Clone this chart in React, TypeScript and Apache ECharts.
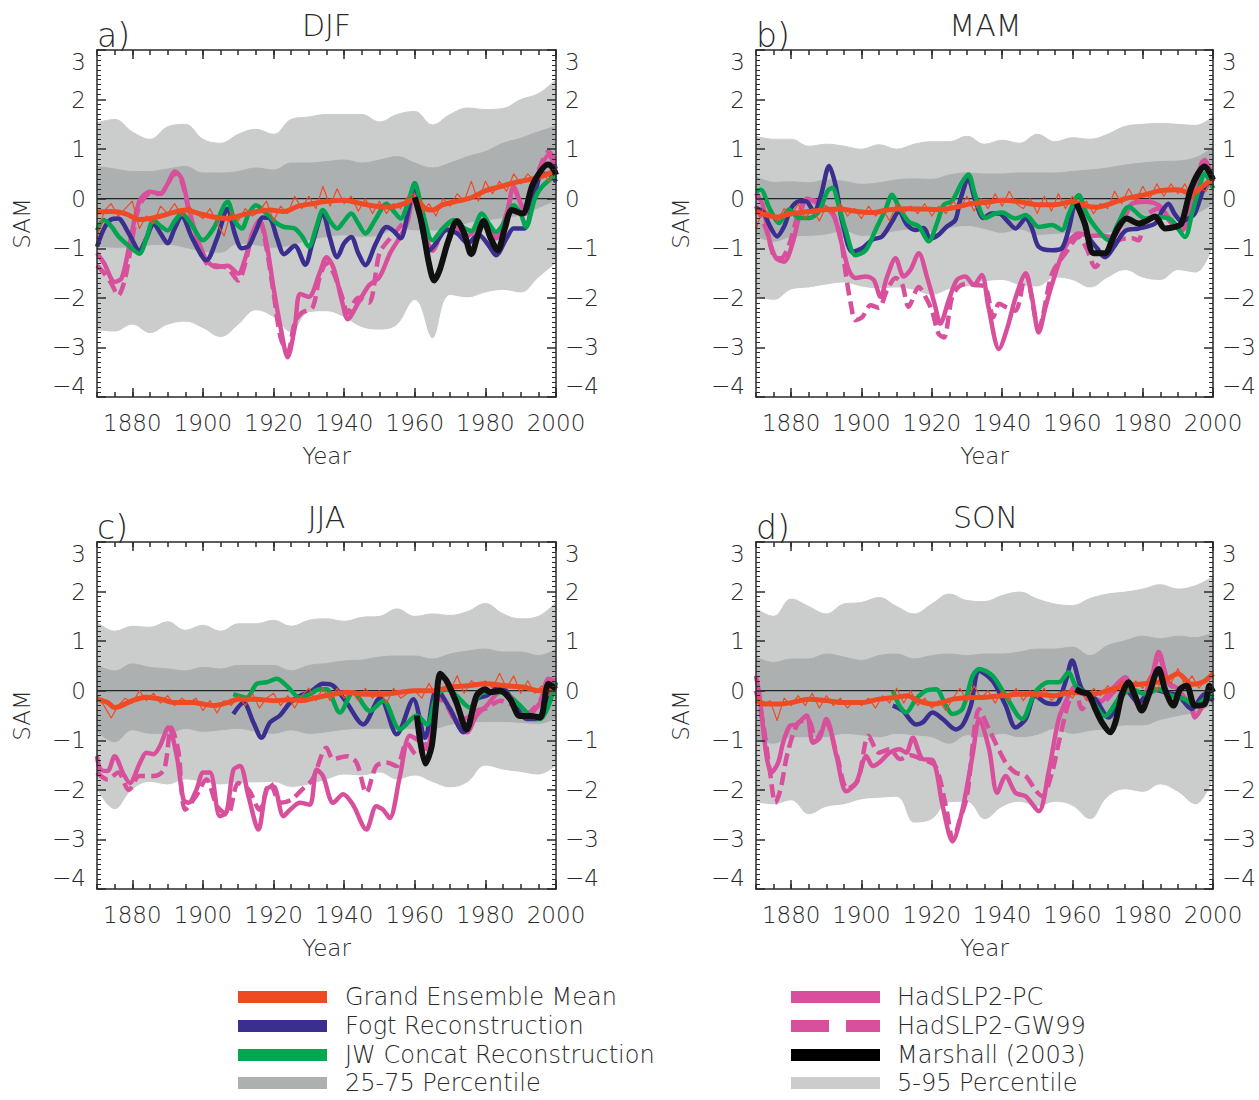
import React, { useEffect, useRef } from "react";
import * as echarts from "echarts";

// ---------------- shared ----------------
const BAND_YEARS = [1870, 1875, 1880, 1885, 1890, 1895, 1900, 1905, 1910, 1915, 1920, 1925, 1930, 1935, 1940, 1945, 1950, 1955, 1960, 1965, 1970, 1975, 1980, 1985, 1990, 1995, 2000];
const THIN_YEARS = Array.from({ length: 66 }, (_, i) => 1870 + 2 * i);
const X_LABEL_YEARS = [1880, 1900, 1920, 1940, 1960, 1980, 2000];
const ZERO_LINE = [[1870, 0], [2000, 0]];

// ---------------- DJF ----------------
const DJF_HI5 = [1.53, 1.6, 1.35, 1.2, 1.45, 1.5, 1.2, 1.12, 1.3, 1.4, 1.3, 1.6, 1.65, 1.7, 1.7, 1.7, 1.55, 1.7, 1.76, 1.49, 1.7, 1.83, 1.8, 1.82, 2.0, 2.12, 2.4];
const DJF_HI25 = [0.65, 0.6, 0.55, 0.55, 0.6, 0.65, 0.52, 0.52, 0.55, 0.62, 0.58, 0.72, 0.72, 0.75, 0.78, 0.72, 0.78, 0.85, 0.72, 0.62, 0.72, 0.85, 0.95, 1.12, 1.22, 1.35, 1.46];
const DJF_LO25 = [-0.97, -1.0, -1.0, -0.95, -0.94, -1.0, -1.08, -1.1, -0.92, -0.95, -1.0, -0.95, -0.85, -0.78, -0.75, -0.78, -0.75, -0.6, -0.65, -0.65, -0.65, -0.5, -0.45, -0.4, -0.35, -0.2, -0.05];
const DJF_LO5 = [-2.66, -2.69, -2.55, -2.72, -2.55, -2.49, -2.62, -2.8, -2.55, -2.26, -2.4, -2.7, -2.3, -2.28, -2.4, -2.6, -2.65, -2.55, -2.05, -2.82, -1.95, -2.0, -1.9, -1.85, -1.9, -1.6, -1.3];
const DJF_GEM_THIN = [
  -0.8, -0.25, -0.1, -0.35, -0.2,
  -0.05, -0.6, -0.35, -0.5, -0.15,
  -0.3, -0.1, -0.35, -0.15, -0.3,
  -0.4, -0.2, -0.5, -0.75, -0.25,
  -0.45, -0.2, -0.35, -0.25, -0.05,
  -0.45, -0.15, -0.3, 0.05, -0.2,
  0.05, -0.2, 0.25, -0.15, 0.2,
  -0.1, 0.05, -0.25, 0.0, -0.3,
  -0.05, -0.3, -0.1, -0.2, 0.05,
  0.1, -0.3, -0.1, -0.35, 0.0,
  -0.15, 0.1, -0.05, 0.35, -0.05,
  0.35, 0.1, 0.35, 0.15, 0.5,
  0.3, 0.5, 0.35, 0.55, 0.35,
  0.6,
];
const DJF_GEM = [[1870, -0.27], [1874, -0.26], [1878, -0.3], [1882, -0.42], [1885, -0.4], [1888, -0.35], [1892, -0.27], [1895, -0.23], [1899, -0.3], [1903, -0.37], [1907, -0.4], [1911, -0.33], [1915, -0.26], [1919, -0.23], [1923, -0.26], [1927, -0.15], [1931, -0.1], [1935, -0.05], [1940, -0.03], [1945, -0.1], [1949, -0.15], [1953, -0.17], [1957, -0.1], [1960, 0.0], [1963, -0.2], [1965, -0.23], [1968, -0.12], [1972, -0.05], [1976, 0.02], [1980, 0.16], [1984, 0.24], [1988, 0.32], [1992, 0.38], [1996, 0.45], [2000, 0.58]];
const DJF_FOGT = [[1870, -0.97], [1872, -0.6], [1874, -0.42], [1876, -0.4], [1879, -0.7], [1882, -1.04], [1884, -0.8], [1886, -0.5], [1888, -0.7], [1890, -0.9], [1892, -0.6], [1894, -0.36], [1897, -0.8], [1901, -1.24], [1904, -0.8], [1907, -0.2], [1909, -0.7], [1911, -1.0], [1913, -0.95], [1915, -0.65], [1917, -0.38], [1919, -0.4], [1921, -0.8], [1923, -1.12], [1926, -0.95], [1929, -1.33], [1931, -0.9], [1934, -0.3], [1936, -0.8], [1938, -1.18], [1940, -0.9], [1942, -0.77], [1944, -1.1], [1946, -1.34], [1949, -0.9], [1952, -0.57], [1954, -0.65], [1956, -0.8], [1958, -0.3], [1960, 0.31], [1962, -0.6], [1964, -1.05], [1966, -0.9], [1969, -0.63], [1972, -0.7], [1975, -0.9], [1978, -0.72], [1981, -0.95], [1983, -1.14], [1986, -0.8], [1988, -0.6], [1991, -0.6], [1994, 0.1], [1996, 0.5], [1998, 0.5], [2000, 0.34]];
const DJF_JW = [[1870, -0.64], [1872, -0.43], [1874, -0.55], [1876, -0.75], [1879, -0.95], [1882, -1.11], [1884, -0.8], [1886, -0.43], [1888, -0.55], [1890, -0.64], [1892, -0.45], [1894, -0.3], [1897, -0.55], [1900, -0.84], [1903, -0.6], [1907, -0.06], [1909, -0.45], [1911, -0.6], [1913, -0.3], [1915, -0.13], [1918, -0.3], [1921, -0.5], [1923, -0.57], [1926, -0.6], [1928, -0.75], [1930, -0.97], [1932, -0.6], [1934, -0.23], [1936, -0.45], [1938, -0.6], [1940, -0.45], [1942, -0.3], [1944, -0.5], [1946, -0.7], [1949, -0.4], [1952, -0.1], [1954, -0.25], [1956, -0.4], [1958, -0.1], [1960, 0.31], [1962, -0.2], [1965, -0.84], [1968, -0.6], [1971, -0.43], [1973, -0.55], [1976, -0.65], [1979, -0.3], [1981, -0.5], [1983, -0.67], [1986, -0.4], [1988, -0.13], [1990, -0.3], [1991.5, -0.57], [1994, 0.0], [1996, 0.24], [2000, 0.48]];
const DJF_PC = [[1870, -1.1], [1872, -1.3], [1875, -1.68], [1877, -1.6], [1879, -1.0], [1882, -0.05], [1885, 0.14], [1888, 0.1], [1890, 0.3], [1892, 0.55], [1894, 0.4], [1896, -0.2], [1898, -0.7], [1901, -1.24], [1904, -1.38], [1907, -1.35], [1910, -1.51], [1912, -1.2], [1914, -0.7], [1916, -0.43], [1918, -0.9], [1920, -1.8], [1922, -2.6], [1924, -3.2], [1926, -2.6], [1927.5, -1.92], [1930, -1.98], [1933, -1.51], [1935, -1.18], [1937, -1.4], [1939.5, -2.1], [1941, -2.43], [1944, -2.1], [1947, -1.75], [1950, -1.58], [1953, -1.1], [1956, -0.75], [1958, -0.45], [1960, 0.24], [1962, -0.5], [1965, -1.0], [1968, -0.6], [1971, -0.45], [1974, -0.75], [1976, -0.7], [1979, -0.45], [1983, -0.77], [1986, -0.3], [1988, 0.24], [1990, -0.1], [1991.5, -0.3], [1994, 0.3], [1998, 0.88], [2000, 0.6]];
const DJF_GW99 = [[1870, -1.35], [1872, -1.5], [1874, -1.7], [1876, -1.95], [1878, -1.6], [1880, -0.8], [1882, -0.15], [1885, 0.1], [1888, 0.1], [1890, 0.3], [1892, 0.5], [1894, 0.35], [1896, -0.25], [1898, -0.75], [1901, -1.3], [1904, -1.35], [1907, -1.4], [1910, -1.65], [1912, -1.3], [1914, -0.7], [1916, -0.45], [1918, -1.0], [1920, -1.9], [1922, -2.8], [1924, -3.1], [1926, -2.5], [1928, -2.3], [1931, -2.2], [1933, -1.6], [1935, -1.3], [1937, -1.5], [1939.5, -2.0], [1941, -2.3], [1944, -2.0], [1947, -2.1], [1950, -1.1], [1953, -0.8], [1956, -0.55], [1958, -0.35], [1960, 0.2], [1962, -0.55], [1965, -1.05], [1968, -0.65], [1971, -0.5], [1974, -0.8], [1976, -0.7], [1979, -0.5], [1983, -0.8], [1986, -0.35], [1988, 0.2], [1990, -0.1], [1991.5, -0.3], [1994, 0.35], [1998, 0.95], [2000, 0.7]];
const DJF_MARSHALL = [[1960, 0.03], [1962, -0.5], [1964, -1.3], [1965.5, -1.65], [1967, -1.45], [1969.5, -0.85], [1972, -0.45], [1974, -0.7], [1976, -1.12], [1978, -0.7], [1979.5, -0.45], [1981.5, -0.8], [1983.5, -1.04], [1985.5, -0.6], [1987.5, -0.23], [1990.5, -0.3], [1993.5, 0.3], [1997.8, 0.69], [1999.3, 0.6], [2000, 0.48]];

// ---------------- MAM ----------------
const MAM_HI5 = [1.26, 1.2, 1.2, 1.06, 1.1, 1.06, 1.0, 1.09, 1.0, 1.1, 1.15, 1.15, 1.26, 1.1, 1.18, 1.12, 1.3, 1.15, 1.23, 1.2, 1.3, 1.46, 1.5, 1.52, 1.5, 1.48, 1.66];
const MAM_HI25 = [0.45, 0.33, 0.34, 0.32, 0.38, 0.35, 0.29, 0.32, 0.38, 0.4, 0.39, 0.48, 0.52, 0.5, 0.5, 0.52, 0.52, 0.52, 0.55, 0.58, 0.62, 0.68, 0.72, 0.75, 0.76, 0.83, 1.03];
const MAM_LO25 = [-0.76, -0.88, -0.78, -0.76, -0.73, -0.66, -0.76, -0.73, -0.66, -0.63, -0.68, -0.6, -0.56, -0.62, -0.7, -0.63, -0.74, -0.72, -0.7, -0.77, -0.7, -0.6, -0.5, -0.43, -0.4, -0.32, -0.12];
const MAM_LO5 = [-1.98, -2.05, -1.84, -1.8, -1.74, -1.7, -1.78, -1.82, -1.8, -1.85, -1.95, -1.83, -1.78, -1.68, -1.65, -1.75, -1.78, -1.6, -1.65, -1.8, -1.6, -1.45, -1.6, -1.65, -1.45, -1.5, -0.97];
const MAM_GEM_THIN = [
  -0.6, -0.2, -0.3, -0.45, -0.2,
  -0.35, -0.1, -0.4, -0.2, -0.45,
  -0.15, -0.3, -0.1, -0.35, -0.2,
  -0.4, -0.15, -0.35, -0.2, -0.45,
  -0.1, -0.3, -0.15, -0.3, -0.1,
  -0.35, -0.15, -0.3, -0.05, -0.2,
  0.05, -0.25, 0.0, -0.2, 0.1,
  -0.15, 0.15, -0.1, -0.2, 0.0,
  -0.3, 0.05, -0.25, 0.1, -0.2,
  0.05, -0.2, -0.05, -0.3, -0.1,
  -0.2, 0.15, -0.1, 0.2, -0.05,
  0.25, 0.0, 0.3, 0.05, 0.3,
  0.1, 0.3, 0.0, 0.2, 0.15,
  0.4,
];
const MAM_GEM = [[1870, -0.26], [1876, -0.37], [1880, -0.3], [1885, -0.26], [1890, -0.22], [1894, -0.21], [1898, -0.25], [1903, -0.28], [1908, -0.22], [1913, -0.2], [1918, -0.21], [1922, -0.22], [1927, -0.17], [1931, -0.1], [1936, -0.07], [1940, -0.03], [1945, -0.06], [1950, -0.12], [1955, -0.12], [1960, -0.06], [1964, -0.15], [1967, -0.17], [1970, -0.12], [1975, 0.0], [1980, 0.07], [1985, 0.16], [1990, 0.18], [1994, 0.1], [1997, 0.25], [2000, 0.41]];
const MAM_FOGT = [[1870, -0.19], [1872, -0.26], [1874, -0.56], [1876, -0.76], [1878, -0.56], [1880, -0.19], [1882.3, -0.05], [1884.2, -0.05], [1886.5, -0.26], [1888.4, 0.05], [1890.8, 0.66], [1892.7, 0.25], [1894.6, -0.49], [1897.4, -1.07], [1900.2, -1.0], [1903, -0.83], [1905.9, -0.76], [1908.7, -0.46], [1910.6, -0.26], [1913, -0.53], [1915.3, -0.63], [1917.7, -0.59], [1919.6, -0.8], [1921.9, -0.73], [1924.3, -0.56], [1926.7, -0.43], [1928.1, -0.02], [1930.4, 0.39], [1932.3, -0.02], [1934.7, -0.39], [1937, -0.3], [1939.1, -0.3], [1941.5, -0.45], [1943.8, -0.6], [1946.7, -0.4], [1948.5, -0.6], [1950.4, -0.97], [1954.2, -1.04], [1957, -1.0], [1959, -0.6], [1960.9, -0.1], [1962.5, -0.3], [1964.6, -0.77], [1967, -1.0], [1969.3, -1.18], [1972, -0.95], [1975, -0.65], [1978.8, -0.6], [1983.5, -0.5], [1985.5, -0.25], [1987.3, -0.1], [1989, -0.3], [1991, -0.45], [1993, -0.4], [1994.8, -0.3], [1997.6, 0.24], [2000, 0.38]];
const MAM_JW = [[1870, 0.15], [1871.4, 0.18], [1873.8, -0.19], [1876.6, -0.49], [1879.4, -0.22], [1882.3, -0.39], [1885.1, -0.39], [1887.9, -0.26], [1890.3, 0.15], [1891.7, 0.22], [1893.6, -0.16], [1895.5, -0.63], [1898.3, -1.14], [1901.2, -1.04], [1904, -0.63], [1906.8, -0.22], [1908.7, 0.08], [1910.6, -0.16], [1913.4, -0.46], [1916.3, -0.56], [1919.1, -0.86], [1921.5, -0.49], [1923.4, -0.12], [1925.7, -0.05], [1928.5, 0.32], [1930.4, 0.49], [1932.3, 0.08], [1935.2, -0.39], [1938, -0.3], [1940, -0.28], [1943.8, -0.4], [1946.7, -0.33], [1950.4, -0.57], [1954.2, -0.53], [1957, -0.63], [1959, -0.3], [1961.8, 0.07], [1964, -0.3], [1966.5, -0.57], [1970.3, -0.84], [1973, -0.5], [1976, -0.16], [1980.7, -0.4], [1984.5, -0.37], [1988.2, -0.43], [1992, -0.77], [1994, -0.3], [1996, 0.2], [1997.6, 0.51], [2000, 0.21]];
const MAM_PC = [[1870, 0.11], [1871.9, -0.12], [1873.8, -0.83], [1875.7, -1.2], [1878, -1.27], [1880.4, -0.9], [1882.3, -0.36], [1884.6, 0.0], [1886.5, -0.05], [1888.9, -0.15], [1891.7, -0.26], [1894.1, -0.83], [1896.4, -1.44], [1898.3, -1.6], [1901.2, -1.57], [1903.5, -1.64], [1905.4, -1.98], [1907.3, -1.57], [1909.7, -1.2], [1912, -1.57], [1913.9, -1.44], [1916.3, -1.1], [1918.6, -1.57], [1921, -2.18], [1922.4, -2.52], [1924.8, -2.05], [1927.1, -1.64], [1929.5, -1.57], [1931.9, -1.74], [1934.2, -1.54], [1936.1, -2.18], [1939.1, -3.03], [1941.5, -2.6], [1943.8, -2.0], [1946.7, -1.51], [1948.5, -2.0], [1950.4, -2.7], [1952.3, -2.2], [1954.2, -1.72], [1958, -0.97], [1961.8, -0.7], [1965, -0.75], [1967.5, -0.74], [1971.2, -0.77], [1975, -0.36], [1976.9, -0.1], [1980.7, -0.06], [1984.5, -0.13], [1988.2, -0.46], [1991, -0.64], [1993.9, -0.16], [1996.7, 0.72], [1997.6, 0.78], [2000, 0.38]];
const MAM_GW99 = [[1870, -0.15], [1872.8, -0.6], [1875.2, -1.17], [1877.1, -1.2], [1879.4, -0.93], [1881.8, -0.36], [1884.6, 0.0], [1887, -0.05], [1891.7, -0.3], [1894, -0.76], [1895.5, -1.5], [1896.9, -2.1], [1898.3, -2.45], [1900.2, -2.39], [1902.6, -2.15], [1904.9, -2.2], [1907.3, -1.84], [1909.7, -1.6], [1911.5, -1.71], [1913.4, -2.18], [1916.3, -1.78], [1918.2, -1.98], [1920, -2.25], [1921.9, -2.72], [1923.4, -2.8], [1925.7, -2.0], [1927.6, -1.78], [1929.9, -1.71], [1932.3, -1.74], [1935.2, -1.78], [1937.5, -2.39], [1939.1, -2.12], [1941.5, -2.2], [1943.8, -2.26], [1946.7, -1.51], [1950.4, -2.6], [1954.2, -1.51], [1958, -1.1], [1961.8, -0.77], [1964, -1.0], [1966.5, -1.38], [1969.3, -1.1], [1973.1, -0.84], [1976.9, -0.8], [1978.8, -0.84], [1980.7, -0.36], [1984.5, -0.2], [1988.2, -0.5], [1991, -0.64], [1993.9, -0.16], [1996.7, 0.65], [1997.6, 0.72], [2000, 0.35]];
const MAM_MARSHALL = [[1961.2, -0.1], [1963.5, -0.5], [1966.1, -1.1], [1969.3, -1.1], [1971.2, -0.85], [1973.1, -0.57], [1975.4, -0.4], [1978.8, -0.5], [1981, -0.45], [1983.5, -0.36], [1986.3, -0.6], [1989.2, -0.57], [1991, -0.5], [1993.9, 0.24], [1997.6, 0.65], [2000, 0.38]];

// ---------------- JJA ----------------
const JJA_HI5 = [1.39, 1.2, 1.3, 1.28, 1.39, 1.22, 1.32, 1.2, 1.35, 1.35, 1.42, 1.3, 1.42, 1.45, 1.4, 1.48, 1.5, 1.65, 1.5, 1.55, 1.52, 1.6, 1.76, 1.55, 1.45, 1.5, 1.79];
const JJA_HI25 = [0.51, 0.4, 0.54, 0.47, 0.44, 0.4, 0.47, 0.44, 0.51, 0.51, 0.51, 0.4, 0.51, 0.55, 0.6, 0.62, 0.68, 0.7, 0.7, 0.64, 0.74, 0.8, 0.84, 0.78, 0.78, 0.71, 0.84];
const JJA_LO25 = [-0.84, -1.05, -0.81, -0.88, -0.88, -0.78, -0.84, -0.81, -0.78, -0.84, -0.88, -0.81, -0.88, -0.85, -0.8, -0.78, -0.78, -0.78, -0.78, -0.78, -0.7, -0.64, -0.64, -0.64, -0.66, -0.68, -0.57];
const JJA_LO5 = [-2.0, -2.4, -2.0, -1.85, -1.9, -1.8, -1.85, -1.9, -1.86, -1.86, -1.85, -1.95, -1.9, -1.8, -1.7, -1.72, -1.66, -1.8, -1.72, -1.85, -1.96, -1.85, -1.52, -1.6, -1.65, -1.7, -1.52];
const JJA_GEM_THIN = [
  -0.1, -0.3, -0.55, -0.3, -0.15,
  -0.25, 0.0, -0.2, -0.05, -0.25,
  -0.1, -0.3, -0.15, -0.25, -0.15,
  -0.4, -0.2, -0.45, -0.2, -0.3,
  -0.1, -0.3, -0.05, -0.35, -0.15,
  -0.05, -0.3, -0.1, -0.35, -0.1,
  0.05, -0.2, 0.05, -0.2, 0.05,
  -0.15, 0.0, -0.2, 0.05, -0.15,
  0.0, -0.25, 0.05, -0.15, -0.05,
  0.0, -0.15, 0.15, -0.1, 0.35,
  0.0, 0.3, -0.05, 0.2, 0.1,
  0.2, 0.05, 0.35, 0.05, 0.3,
  -0.05, 0.2, -0.05, 0.1, -0.1,
  0.15,
];
const JJA_GEM = [[1870, -0.17], [1873, -0.24], [1875, -0.34], [1877, -0.3], [1880, -0.2], [1884, -0.13], [1888, -0.17], [1892, -0.24], [1897, -0.24], [1900, -0.27], [1903, -0.3], [1907, -0.24], [1910, -0.17], [1915, -0.17], [1920, -0.2], [1925, -0.18], [1928, -0.2], [1932, -0.14], [1937, -0.07], [1941, -0.03], [1946, -0.07], [1951, -0.07], [1956, -0.03], [1960, 0.0], [1965, 0.0], [1970, 0.07], [1975, 0.1], [1980, 0.14], [1986, 0.1], [1991, 0.07], [1995, 0.0], [2000, 0.07]];
const JJA_FOGT = [[1908.6, -0.47], [1911.5, -0.24], [1914.3, -0.64], [1916.6, -0.95], [1919, -0.64], [1921.8, -0.5], [1924.7, -0.24], [1927.5, -0.1], [1930.3, -0.03], [1934, 0.14], [1936.9, 0.1], [1940.7, -0.24], [1945.4, -0.68], [1950.2, -0.14], [1954.9, -0.88], [1959.6, -0.17], [1962.9, -0.95], [1966.2, 0.03], [1970, -0.37], [1973.8, -0.84], [1977.6, -0.17], [1980.4, -0.1], [1984.2, 0.1], [1988, -0.24], [1991.7, -0.57], [1994.6, -0.57], [1997.4, -0.24], [2000, 0.17]];
const JJA_JW = [[1908.6, -0.07], [1912.4, -0.14], [1915.2, 0.14], [1918, 0.17], [1920.9, 0.24], [1923.7, 0.1], [1927.5, -0.14], [1930.3, -0.07], [1933, 0.03], [1935, 0.03], [1938.8, -0.44], [1942.6, -0.03], [1947.3, -0.41], [1951.1, -0.2], [1955.8, -0.78], [1960.6, -0.5], [1963.4, -0.68], [1966.2, -0.1], [1969, 0.03], [1971.8, -0.1], [1975.6, -0.34], [1979.4, -0.03], [1984.2, -0.03], [1988.9, -0.24], [1992.7, -0.5], [1995.5, -0.57], [2000, 0.17]];
const JJA_PC = [[1870, -1.32], [1871, -1.59], [1873, -1.62], [1875, -1.32], [1877.5, -1.68], [1879.3, -1.86], [1882.2, -1.45], [1884, -1.25], [1886, -1.28], [1887.8, -1.12], [1890.2, -0.74], [1892.6, -1.32], [1894.5, -2.2], [1896, -2.26], [1898.2, -1.99], [1900.1, -1.65], [1902, -1.65], [1904.8, -2.53], [1906.7, -2.45], [1908.6, -1.6], [1910.5, -1.52], [1912.9, -2.13], [1915.7, -2.8], [1918, -1.99], [1920, -1.93], [1922.8, -2.53], [1924.7, -2.4], [1927.5, -2.26], [1930.3, -2.3], [1932.2, -1.59], [1934, -1.72], [1936.9, -2.26], [1939.7, -2.09], [1942.5, -2.3], [1946.3, -2.8], [1949.1, -2.33], [1951, -2.4], [1952.9, -2.57], [1955.8, -1.72], [1958.6, -0.91], [1961, -1.0], [1963.4, -1.18], [1966.2, 0.03], [1969, -0.24], [1971.8, -0.64], [1974.7, -0.84], [1977.5, -0.5], [1980.4, -0.3], [1984.2, -0.03], [1988, -0.17], [1991.7, -0.51], [1995.5, -0.24], [1997.9, 0.24], [2000, 0.2]];
const JJA_GW99 = [[1870, -1.65], [1873, -1.79], [1876, -1.65], [1879, -2.0], [1882, -1.72], [1886, -1.72], [1889, -1.59], [1891, -0.74], [1893, -1.2], [1895, -2.4], [1898, -2.13], [1901, -1.79], [1904, -2.33], [1907, -2.5], [1910, -1.86], [1913, -2.0], [1916, -2.4], [1919, -1.86], [1922, -2.26], [1925, -2.2], [1928, -2.0], [1931, -1.79], [1935, -1.15], [1936.9, -1.38], [1940.7, -1.32], [1943.5, -1.45], [1946.3, -2.06], [1949.1, -1.52], [1952, -1.45], [1954.9, -1.52], [1957.7, -1.05], [1960.6, -1.3], [1963.4, -1.05], [1966.2, -0.1], [1969, -0.3], [1971.8, -0.6], [1974.7, -0.55], [1977.5, -0.4], [1980.4, -0.35], [1984.2, -0.2], [1988, -0.3], [1991.7, -0.45], [1995.5, -0.2], [1997.9, 0.2], [2000, 0.15]];
const JJA_MARSHALL = [[1960.6, -0.5], [1963, -1.47], [1964.8, -1.12], [1966, -0.3], [1967.2, 0.34], [1969, 0.2], [1971.8, -0.24], [1974.7, -0.78], [1977.5, -0.1], [1979.9, 0.03], [1981.3, -0.03], [1984.2, 0.0], [1987, -0.17], [1989.8, -0.51], [1992.7, -0.51], [1995.5, -0.54], [1997.9, 0.14], [2000, 0.03]];

// ---------------- SON ----------------
const SON_HI5 = [1.66, 1.5, 1.85, 1.7, 1.55, 1.75, 1.78, 1.88, 1.7, 1.55, 1.75, 1.95, 1.82, 1.8, 1.92, 1.99, 1.85, 1.75, 1.72, 1.86, 1.95, 1.99, 2.05, 2.14, 2.05, 2.12, 2.3];
const SON_HI25 = [0.68, 0.57, 0.64, 0.64, 0.74, 0.68, 0.61, 0.71, 0.74, 0.64, 0.71, 0.74, 0.71, 0.74, 0.74, 0.78, 0.84, 0.84, 0.88, 0.71, 0.91, 1.01, 1.1, 1.05, 1.1, 1.07, 1.18];
const SON_LO25 = [-1.01, -1.08, -0.95, -0.95, -0.95, -0.88, -0.91, -0.95, -0.88, -0.91, -0.95, -1.08, -0.91, -0.95, -0.88, -0.95, -0.9, -0.78, -0.88, -0.82, -0.78, -0.71, -0.71, -0.6, -0.52, -0.45, -0.3];
const SON_LO5 = [-2.26, -2.3, -2.22, -2.5, -2.35, -2.3, -2.2, -2.17, -2.15, -2.67, -2.6, -2.26, -2.25, -2.6, -2.35, -2.25, -2.35, -2.25, -2.33, -2.6, -2.15, -2.0, -2.05, -1.9, -2.05, -2.3, -1.8];
const SON_GEM_THIN = [
  -0.05, -0.3, -0.2, -0.6, -0.15,
  -0.3, -0.1, -0.3, -0.05, -0.35,
  -0.1, -0.3, -0.15, -0.35, -0.2,
  -0.3, -0.15, -0.35, -0.1, -0.25,
  0.05, -0.25, 0.0, -0.3, -0.15,
  -0.35, -0.2, -0.4, -0.15, 0.05,
  -0.2, 0.1, -0.15, 0.0, -0.25,
  0.0, -0.2, 0.05, -0.2, 0.0,
  -0.15, 0.05, -0.2, -0.05, 0.0,
  -0.15, 0.05, -0.2, 0.05, -0.1,
  0.1, -0.05, 0.2, 0.0, 0.2,
  0.05, 0.3, 0.0, 0.35, 0.15,
  0.45, 0.1, 0.3, 0.05, 0.25,
  0.4,
];
const SON_GEM = [[1870, -0.2], [1873, -0.27], [1876, -0.27], [1880, -0.24], [1885, -0.17], [1890, -0.2], [1895, -0.24], [1900, -0.24], [1905, -0.17], [1910, -0.13], [1913, -0.1], [1916, -0.2], [1920, -0.27], [1923, -0.24], [1926, -0.17], [1930, -0.14], [1935, -0.13], [1940, -0.1], [1945, -0.07], [1950, -0.07], [1955, -0.1], [1960, -0.03], [1965.6, -0.07], [1970, 0.0], [1975, 0.1], [1980.7, 0.14], [1986, 0.2], [1990, 0.34], [1994, 0.13], [1997, 0.17], [2000, 0.34]];
const SON_FOGT = [[1908.9, -0.3], [1911.7, -0.4], [1915.5, -0.68], [1917.4, -0.64], [1920.2, -0.44], [1923.1, -0.57], [1926.8, -0.78], [1928.7, -0.7], [1931.1, -0.3], [1933.5, 0.4], [1937.3, 0.2], [1941, -0.3], [1943.8, -0.74], [1946.7, -0.57], [1949.4, -0.1], [1952.3, -0.24], [1955.2, -0.27], [1958, 0.17], [1959.9, 0.61], [1962.7, 0.03], [1966.5, -0.17], [1970.3, -0.54], [1975, 0.03], [1978.8, -0.24], [1982.6, 0.03], [1986.3, -0.03], [1990.1, -0.1], [1993.9, -0.37], [1997.6, -0.07], [2000, -0.2]];
const SON_JW = [[1908.9, 0.0], [1910.8, -0.3], [1912.7, -0.44], [1915.5, -0.17], [1918.3, 0.0], [1921.2, 0.03], [1924, -0.3], [1925.9, -0.47], [1928.7, -0.37], [1931.6, 0.3], [1933.5, 0.44], [1937.3, 0.3], [1941, -0.1], [1945.7, -0.57], [1949.4, -0.03], [1953.2, 0.17], [1956.1, 0.17], [1958.9, 0.37], [1960.9, 0.1], [1964.6, -0.1], [1969.3, -0.51], [1973.1, -0.17], [1976.9, 0.03], [1980.7, -0.07], [1984.5, 0.03], [1988.2, -0.1], [1992, -0.17], [1994.8, -0.3], [1997.6, -0.17], [2000, -0.07]];
const SON_PC = [[1870, 0.3], [1871, -0.1], [1873, -1.32], [1874.4, -1.65], [1876.3, -1.45], [1877.7, -1.05], [1879.6, -0.71], [1881.5, -0.68], [1884.4, -0.5], [1886.2, -1.05], [1888.1, -0.95], [1890, -0.57], [1892.9, -1.32], [1895.7, -2.03], [1898.5, -1.86], [1901.4, -1.32], [1903.2, -1.52], [1905.1, -1.45], [1908, -1.25], [1910.8, -1.18], [1912.7, -1.25], [1914.6, -0.95], [1917.4, -1.38], [1920.2, -1.4], [1923.1, -2.33], [1925.9, -3.04], [1928.7, -2.4], [1931.6, -1.3], [1933.5, -0.57], [1936.3, -1.18], [1938.6, -2.06], [1941, -1.72], [1943.8, -2.06], [1946.7, -2.13], [1950.4, -2.43], [1953.2, -1.65], [1956.1, -0.57], [1958.9, -0.1], [1960.9, 0.1], [1963.7, -0.1], [1967.5, -0.24], [1971.2, 0.03], [1975, 0.27], [1978.8, -0.3], [1982.6, 0.3], [1984.5, 0.78], [1987.3, 0.17], [1990.1, 0.03], [1993.9, -0.37], [1994.8, -0.54], [1997.6, -0.24], [2000, -0.07]];
const SON_GW99 = [[1870, 0.0], [1872, -0.65], [1874, -1.65], [1875.5, -2.26], [1877, -1.98], [1879, -1.25], [1882, -0.65], [1885, -0.6], [1887, -1.0], [1890, -0.65], [1893, -1.3], [1896, -1.98], [1899, -1.8], [1902, -0.91], [1905, -1.25], [1908, -1.18], [1911, -1.38], [1914, -1.3], [1917, -1.38], [1921, -1.52], [1924, -2.33], [1926, -3.0], [1928, -2.6], [1930, -2.13], [1933.5, -0.37], [1936.3, -0.78], [1941, -1.45], [1943.8, -1.65], [1946.7, -1.72], [1949.4, -2.0], [1951.4, -2.13], [1954.2, -1.65], [1956.1, -1.05], [1958.9, -0.24], [1960.9, 0.03], [1962.7, -0.37], [1965.6, -0.17], [1969, -0.2], [1972, 0.0], [1975, 0.2], [1978.8, -0.3], [1982.6, 0.25], [1984.5, 0.7], [1987.3, 0.15], [1990.1, 0.0], [1993.9, -0.35], [1995, -0.5], [1997.6, -0.25], [2000, -0.1]];
const SON_MARSHALL = [[1960.9, 0.03], [1962.7, -0.03], [1964.6, -0.07], [1966.5, -0.37], [1968.4, -0.64], [1970.8, -0.84], [1972.2, -0.64], [1974, -0.1], [1975.9, 0.17], [1977.8, -0.1], [1979.7, -0.4], [1981.6, -0.1], [1984.5, 0.44], [1986.3, 0.03], [1988.7, -0.3], [1990.6, 0.03], [1992.5, 0.1], [1994.8, -0.3], [1997.6, -0.27], [1999, 0.1], [2000, -0.03]];

// ---------------- legend / titles ----------------
const PANEL_TITLES = ["DJF", "MAM", "JJA", "SON"];
const PANEL_LETTERS = ["a)", "b)", "c)", "d)"];
const LEGEND_LEFT = ["Grand Ensemble Mean", "Fogt Reconstruction", "JW Concat Reconstruction", "25-75 Percentile"];
const LEGEND_RIGHT = ["HadSLP2-PC", "HadSLP2-GW99", "Marshall (2003)", "5-95 Percentile"];

// ---------------- styling ----------------
const FONT = "'DejaVu Sans', 'Liberation Sans', sans-serif";
const FW = 200;
const TXT = "#2a2a2a";
const AXC = "#2a2a2a";
const ORANGE = "#f04a24";
const NAVY = "#3a2f8e";
const GREEN = "#00a650";
const PINK = "#d8509c";
const BLACK = "#101010";
const DARK_GRAY = "#adb0b1";
const LIGHT_GRAY = "#cbcdcd";

const GRID_POS = [
  { left: 97, top: 50 },
  { left: 756, top: 50 },
  { left: 97, top: 542 },
  { left: 756, top: 542 },
];
const GRID_W = 459;
const GRID_H = 347;

const PANELS = [
  { hi5: DJF_HI5, hi25: DJF_HI25, lo25: DJF_LO25, lo5: DJF_LO5, thin: DJF_GEM_THIN, gem: DJF_GEM, fogt: DJF_FOGT, jw: DJF_JW, pc: DJF_PC, gw: DJF_GW99, marshall: DJF_MARSHALL },
  { hi5: MAM_HI5, hi25: MAM_HI25, lo25: MAM_LO25, lo5: MAM_LO5, thin: MAM_GEM_THIN, gem: MAM_GEM, fogt: MAM_FOGT, jw: MAM_JW, pc: MAM_PC, gw: MAM_GW99, marshall: MAM_MARSHALL },
  { hi5: JJA_HI5, hi25: JJA_HI25, lo25: JJA_LO25, lo5: JJA_LO5, thin: JJA_GEM_THIN, gem: JJA_GEM, fogt: JJA_FOGT, jw: JJA_JW, pc: JJA_PC, gw: JJA_GW99, marshall: JJA_MARSHALL },
  { hi5: SON_HI5, hi25: SON_HI25, lo25: SON_LO25, lo5: SON_LO5, thin: SON_GEM_THIN, gem: SON_GEM, fogt: SON_FOGT, jw: SON_JW, pc: SON_PC, gw: SON_GW99, marshall: SON_MARSHALL },
];

const yFmt = (v: number) => (v < 0 ? "\u2212" + Math.abs(v) : String(v));
const xFmt = (v: number) => String(Math.round(v));

function buildOption() {
  const grid: any[] = [];
  const xAxis: any[] = [];
  const yAxis: any[] = [];
  const series: any[] = [];
  const lineStyleAx = { color: AXC, width: 1.5 };
  const axText = { fontSize: 23, color: TXT, fontFamily: FONT, fontWeight: FW };

  PANELS.forEach((p, g) => {
    grid.push({ left: GRID_POS[g].left, top: GRID_POS[g].top, width: GRID_W, height: GRID_H, containLabel: false });

    const xBase = { gridIndex: g, type: "value", min: 1870, max: 2000, splitLine: { show: false }, z: 10 };
    xAxis.push({
      ...xBase,
      position: "bottom",
      axisLine: { show: true, onZero: false, lineStyle: lineStyleAx },
      axisTick: { show: true, inside: true, length: 9, customValues: X_LABEL_YEARS, lineStyle: lineStyleAx },
      axisLabel: { show: true, customValues: X_LABEL_YEARS, formatter: xFmt, margin: 14, ...axText },
      name: "Year",
      nameLocation: "middle",
      nameGap: 47,
      nameTextStyle: { ...axText },
    });
    xAxis.push({
      ...xBase,
      position: "bottom",
      interval: 5,
      axisLine: { show: false, onZero: false },
      axisTick: { show: true, inside: true, length: 5, lineStyle: lineStyleAx },
      axisLabel: { show: false },
    });
    xAxis.push({
      ...xBase,
      position: "top",
      axisLine: { show: true, onZero: false, lineStyle: lineStyleAx },
      axisTick: { show: true, inside: true, length: 9, customValues: X_LABEL_YEARS, lineStyle: lineStyleAx },
      axisLabel: { show: false },
    });
    xAxis.push({
      ...xBase,
      position: "top",
      interval: 5,
      axisLine: { show: false, onZero: false },
      axisTick: { show: true, inside: true, length: 5, lineStyle: lineStyleAx },
      axisLabel: { show: false },
    });

    const yBase = {
      gridIndex: g,
      type: "value",
      min: -4,
      max: 3,
      interval: 1,
      z: 10,
      splitLine: { show: false },
      minorSplitLine: { show: false },
      axisLine: { show: true, onZero: false, lineStyle: lineStyleAx },
      axisTick: { show: true, inside: true, length: 9, lineStyle: lineStyleAx },
      minorTick: { show: true, splitNumber: 10, length: 4, lineStyle: { color: AXC, width: 1 } },
    };
    yAxis.push({
      ...yBase,
      position: "left",
      axisLabel: {
        show: true, formatter: yFmt, margin: 11, ...axText,
        verticalAlignMinLabel: "bottom", verticalAlignMaxLabel: "top",
      },
      name: "SAM",
      nameLocation: "middle",
      nameRotate: 90,
      nameGap: 64,
      nameTextStyle: { ...axText },
    });
    yAxis.push({
      ...yBase,
      position: "right",
      axisLabel: {
        show: true, formatter: yFmt, margin: 9, ...axText,
        verticalAlignMinLabel: "bottom", verticalAlignMaxLabel: "top",
      },
    });

    const xi = 4 * g;
    const yi = 2 * g;
    const common = { xAxisIndex: xi, yAxisIndex: yi, showSymbol: false, symbol: "none", silent: true, animation: false, clip: true };

    // Percentile bands: layered areas filled down to the axis minimum
    const addArea = (vals: number[], color: string, name: string) => {
      series.push({
        ...common, type: "line", name, smooth: 0.4,
        data: BAND_YEARS.map((yr, i) => [yr, vals[i]]),
        lineStyle: { width: 1, color },
        areaStyle: { color, opacity: 1, origin: "start" },
        z: 1,
      });
    };
    addArea(p.hi5, LIGHT_GRAY, "5-95 Percentile");
    addArea(p.hi25, DARK_GRAY, "25-75 Percentile");
    addArea(p.lo25, LIGHT_GRAY, "25-75 Percentile (lower)");
    addArea(p.lo5, "#ffffff", "5-95 Percentile (lower)");

    series.push({ ...common, type: "line", name: "zero", data: ZERO_LINE, lineStyle: { color: "#000", width: 1 }, z: 2 });

    const addLine = (name: string, data: number[][], color: string, width: number, type: any = "solid", smooth: number | boolean = 0.3) => {
      series.push({ ...common, type: "line", name, data, smooth, lineStyle: { color, width, type, cap: "butt", join: "round" }, z: 3 });
    };
    addLine("HadSLP2-GW99", p.gw, PINK, 4.5, [13, 6]);
    addLine("HadSLP2-PC", p.pc, PINK, 4.5);
    addLine("Fogt Reconstruction", p.fogt, NAVY, 4.5);
    addLine("JW Concat Reconstruction", p.jw, GREEN, 4.5);
    addLine("Grand Ensemble Mean (annual)", THIN_YEARS.map((yr, i) => [yr, p.thin[i]]), ORANGE, 1.2, "solid", false);
    addLine("Grand Ensemble Mean", p.gem, ORANGE, 5);
    addLine("Marshall (2003)", p.marshall, BLACK, 6);
  });

  const graphic: any[] = [];
  const txtStyle = (text: string, size: number, align = "left", valign = "middle") => ({
    text, fontSize: size, fontFamily: FONT, fontWeight: FW, fill: TXT,
    textAlign: align, align, textVerticalAlign: valign, verticalAlign: valign,
  });
  PANEL_TITLES.forEach((t, g) => {
    const cx = GRID_POS[g].left + GRID_W / 2;
    const ty = GRID_POS[g].top - 25;
    graphic.push({ type: "text", x: cx, y: ty, style: txtStyle(t, 30, "center") });
    graphic.push({ type: "text", x: GRID_POS[g].left, y: GRID_POS[g].top - 15, style: txtStyle(PANEL_LETTERS[g], 33, "left") });
  });

  const rowsY = [997, 1026, 1055, 1083];
  const leftColors = [ORANGE, NAVY, GREEN, DARK_GRAY];
  LEGEND_LEFT.forEach((label, i) => {
    graphic.push({ type: "rect", shape: { x: 238, y: rowsY[i] - 6, width: 89, height: 12 }, style: { fill: leftColors[i] } });
    graphic.push({ type: "text", x: 345, y: rowsY[i], style: txtStyle(label, 24) });
  });
  LEGEND_RIGHT.forEach((label, i) => {
    if (i === 1) {
      graphic.push({ type: "rect", shape: { x: 791, y: rowsY[i] - 6, width: 38, height: 12 }, style: { fill: PINK } });
      graphic.push({ type: "rect", shape: { x: 846, y: rowsY[i] - 6, width: 34, height: 12 }, style: { fill: PINK } });
    } else {
      const c = i === 0 ? PINK : i === 2 ? "#000" : LIGHT_GRAY;
      graphic.push({ type: "rect", shape: { x: 791, y: rowsY[i] - 6, width: 89, height: 12 }, style: { fill: c } });
    }
    graphic.push({ type: "text", x: 897, y: rowsY[i], style: txtStyle(label, 24) });
  });

  return {
    animation: false,
    backgroundColor: "#ffffff",
    textStyle: { fontFamily: FONT, fontWeight: FW },
    grid,
    xAxis,
    yAxis,
    series,
    graphic,
  };
}

export default function App() {
  const ref = useRef<HTMLDivElement>(null);
  useEffect(() => {
    if (!ref.current) return;
    const chart = echarts.init(ref.current, undefined, { renderer: "svg" });
    chart.setOption(buildOption() as any);
    return () => {
      chart.dispose();
    };
  }, []);
  return (
    <div
      ref={ref}
      style={{ position: "fixed", left: 0, top: 0, width: 1259, height: 1100, background: "#fff" }}
    />
  );
}
